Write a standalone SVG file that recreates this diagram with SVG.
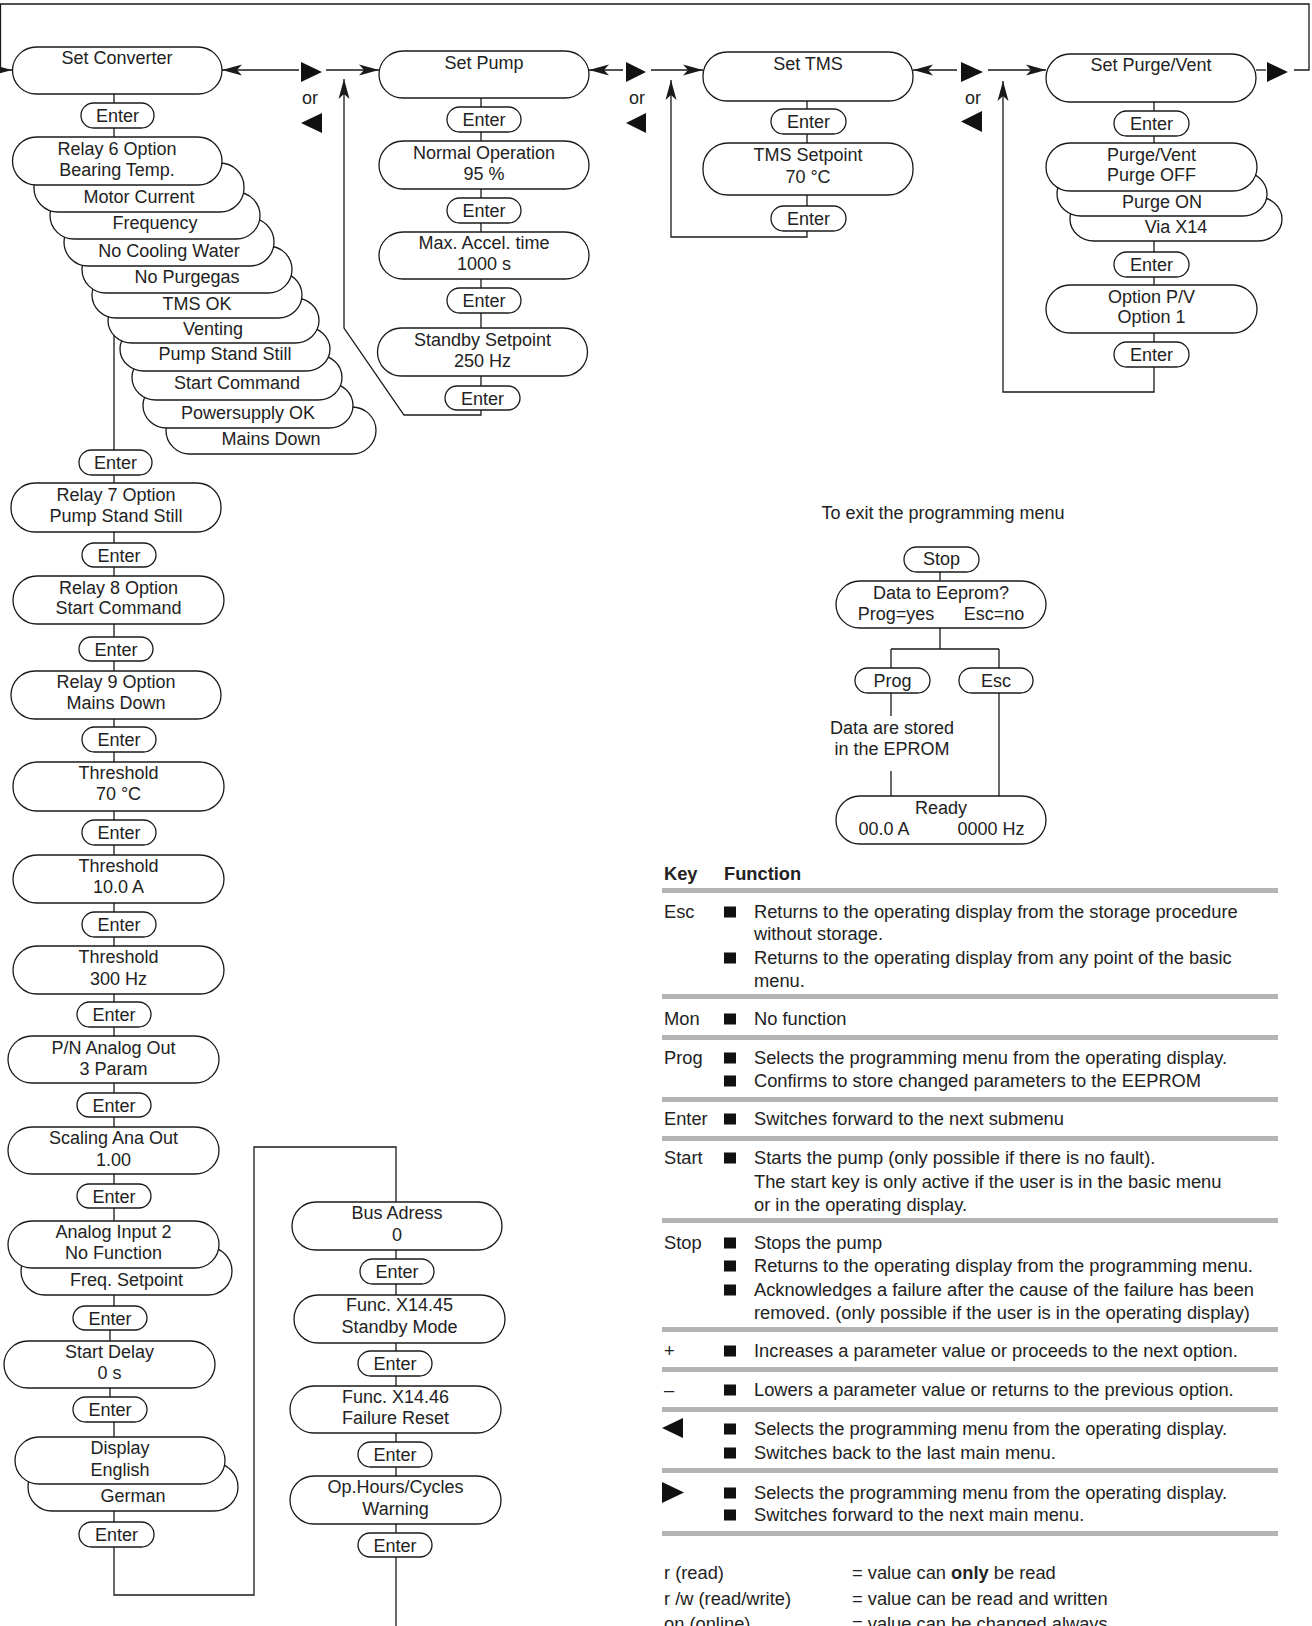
<svg xmlns="http://www.w3.org/2000/svg" width="1312" height="1626" viewBox="0 0 1312 1626">
<style>
text{font-family:"Liberation Sans",Arial,sans-serif;font-size:18px;fill:#222}
#key-table text{font-size:18.3px}
.c{text-anchor:middle}
.b{font-weight:bold}
.n rect{fill:#fff;stroke:#1a1a1a;stroke-width:1.3}
.ln{fill:none;stroke:#1a1a1a;stroke-width:1.3}
.tri{fill:#111}
.rule{fill:#b4b4b4}
.bul{fill:#111}
</style>
<defs>
<marker id="ah" markerUnits="userSpaceOnUse" markerWidth="22" markerHeight="12" refX="20" refY="6" orient="auto"><path d="M0,0.5 L20,6 L0,11.5 L5,6 z" fill="#1a1a1a"/></marker>
</defs>
<g id="connectors">
<path class="ln" d="M1294,70 H1309 V4 H0.5 V70 H12" marker-end="url(#ah)"/>
<path class="ln" d="M299,70 H222" marker-end="url(#ah)"/>
<path class="ln" d="M326,70 H379" marker-end="url(#ah)"/>
<path class="ln" d="M481,98 V415 H404 L344,328 V79" marker-end="url(#ah)"/>
<path class="ln" d="M623,70 H589" marker-end="url(#ah)"/>
<path class="ln" d="M651,70 H703" marker-end="url(#ah)"/>
<path class="ln" d="M807,101 V237 H671 V80" marker-end="url(#ah)"/>
<path class="ln" d="M957,70 H913" marker-end="url(#ah)"/>
<path class="ln" d="M988,70 H1046" marker-end="url(#ah)"/>
<path class="ln" d="M1154,102 V392 H1003 V81" marker-end="url(#ah)"/>
<path class="ln" d="M1256,70 H1266"/>
<path class="ln" d="M114,94 V1318 M110,1318 V1409 M114,1409 V1595 H254 V1147 H396 V1626"/>
<path class="ln" d="M940,572 V649 M891,649 H999 M891,649 V716 M891,771 V796 M999,649 V796"/>
<polygon class="tri" points="301,62 322,72 301,82"/>
<polygon class="tri" points="322,113 301,123 322,133"/>
<text class="c" x="310" y="104">or</text>
<polygon class="tri" points="626,62 646,72 626,82"/>
<polygon class="tri" points="646,113 626,123 646,133"/>
<text class="c" x="637" y="104">or</text>
<polygon class="tri" points="961,62 983,72 961,82"/>
<polygon class="tri" points="982,111 961,121.5 982,132"/>
<text class="c" x="973" y="104">or</text>
<polygon class="tri" points="1267,62 1288,72 1267,82"/>
</g>
<g id="set-converter" class="n"><rect x="12.5" y="47" width="209.5" height="47" rx="24"/><text class="c" x="117" y="63.5">Set Converter</text></g>
<g id="conv-enter-1" class="n"><rect x="81" y="103" width="73" height="25" rx="12.5"/><text class="c" x="117.5" y="122">Enter</text></g>
<g id="opt-mains-down" class="n"><rect x="166" y="407" width="210" height="47" rx="24"/><text class="c" x="271" y="444.5">Mains Down</text></g>
<g id="opt-powersupply-ok" class="n"><rect x="143" y="383" width="210" height="45" rx="24"/><text class="c" x="248" y="418.5">Powersupply OK</text></g>
<g id="opt-start-command" class="n"><rect x="132" y="355" width="210" height="45" rx="24"/><text class="c" x="237" y="388.5">Start Command</text></g>
<g id="opt-pump-stand-still" class="n"><rect x="120" y="327" width="210" height="44" rx="24"/><text class="c" x="225" y="359.5">Pump Stand Still</text></g>
<g id="opt-venting" class="n"><rect x="108" y="298" width="211" height="45" rx="24"/><text class="c" x="213" y="334.5">Venting</text></g>
<g id="opt-tms-ok" class="n"><rect x="92" y="272" width="210" height="46" rx="24"/><text class="c" x="197" y="309.5">TMS OK</text></g>
<g id="opt-no-purgegas" class="n"><rect x="82" y="246" width="210" height="47" rx="24"/><text class="c" x="187" y="282.5">No Purgegas</text></g>
<g id="opt-no-cooling-water" class="n"><rect x="64" y="218" width="210" height="48" rx="24"/><text class="c" x="169" y="256.5">No Cooling Water</text></g>
<g id="opt-frequency" class="n"><rect x="50" y="192" width="210" height="47" rx="24"/><text class="c" x="155" y="228.5">Frequency</text></g>
<g id="opt-motor-current" class="n"><rect x="34" y="163" width="210" height="49" rx="24"/><text class="c" x="139" y="202.5">Motor Current</text></g>
<g id="relay6" class="n"><rect x="12.5" y="137" width="209.5" height="48" rx="24"/><text class="c" x="117" y="154.5">Relay 6 Option</text><text class="c" x="117" y="175.5">Bearing Temp.</text></g>
<g id="conv-enter-2" class="n"><rect x="79" y="450" width="73" height="25" rx="12.5"/><text class="c" x="115.5" y="469">Enter</text></g>
<g id="relay7" class="n"><rect x="11" y="483" width="210" height="49" rx="24"/><text class="c" x="116" y="500.5">Relay 7 Option</text><text class="c" x="116" y="521.5">Pump Stand Still</text></g>
<g id="conv-enter-3" class="n"><rect x="82" y="543" width="74" height="24" rx="12"/><text class="c" x="119" y="561.5">Enter</text></g>
<g id="relay8" class="n"><rect x="13" y="576" width="211" height="48" rx="24"/><text class="c" x="118.5" y="593.5">Relay 8 Option</text><text class="c" x="118.5" y="613.5">Start Command</text></g>
<g id="conv-enter-4" class="n"><rect x="79" y="637" width="74" height="24" rx="12"/><text class="c" x="116" y="655.5">Enter</text></g>
<g id="relay9" class="n"><rect x="11" y="671" width="210" height="48" rx="24"/><text class="c" x="116" y="687.5">Relay 9 Option</text><text class="c" x="116" y="708.5">Mains Down</text></g>
<g id="conv-enter-5" class="n"><rect x="82" y="727" width="74" height="25" rx="12.5"/><text class="c" x="119" y="746">Enter</text></g>
<g id="threshold-temp" class="n"><rect x="13" y="762" width="211" height="49" rx="24"/><text class="c" x="118.5" y="778.5">Threshold</text><text class="c" x="118.5" y="799.5">70 °C</text></g>
<g id="conv-enter-6" class="n"><rect x="82" y="820" width="74" height="25" rx="12.5"/><text class="c" x="119" y="839">Enter</text></g>
<g id="threshold-current" class="n"><rect x="13" y="855" width="211" height="48" rx="24"/><text class="c" x="118.5" y="871.5">Threshold</text><text class="c" x="118.5" y="892.5">10.0 A</text></g>
<g id="conv-enter-7" class="n"><rect x="82" y="912" width="74" height="25" rx="12.5"/><text class="c" x="119" y="931">Enter</text></g>
<g id="threshold-freq" class="n"><rect x="13" y="946" width="211" height="48" rx="24"/><text class="c" x="118.5" y="962.5">Threshold</text><text class="c" x="118.5" y="984.5">300 Hz</text></g>
<g id="conv-enter-8" class="n"><rect x="77" y="1002" width="74" height="25" rx="12.5"/><text class="c" x="114" y="1021">Enter</text></g>
<g id="pn-analog-out" class="n"><rect x="8" y="1036" width="211" height="47" rx="24"/><text class="c" x="113.5" y="1053.5">P/N Analog Out</text><text class="c" x="113.5" y="1074.5">3 Param</text></g>
<g id="conv-enter-9" class="n"><rect x="77" y="1093" width="74" height="24" rx="12"/><text class="c" x="114" y="1111.5">Enter</text></g>
<g id="scaling-ana-out" class="n"><rect x="8" y="1127" width="211" height="47" rx="24"/><text class="c" x="113.5" y="1143.5">Scaling Ana Out</text><text class="c" x="113.5" y="1165.5">1.00</text></g>
<g id="conv-enter-10" class="n"><rect x="77" y="1184" width="74" height="24" rx="12"/><text class="c" x="114" y="1202.5">Enter</text></g>
<g id="opt-freq-setpoint" class="n"><rect x="21" y="1247" width="211" height="48" rx="24"/><text class="c" x="126.5" y="1285.5">Freq. Setpoint</text></g>
<g id="analog-input-2" class="n"><rect x="8" y="1221" width="211" height="47" rx="24"/><text class="c" x="113.5" y="1237.5">Analog Input 2</text><text class="c" x="113.5" y="1258.5">No Function</text></g>
<g id="conv-enter-11" class="n"><rect x="73" y="1306" width="74" height="24" rx="12"/><text class="c" x="110" y="1324.5">Enter</text></g>
<g id="start-delay" class="n"><rect x="4" y="1341" width="211" height="47" rx="24"/><text class="c" x="109.5" y="1357.5">Start Delay</text><text class="c" x="109.5" y="1378.5">0 s</text></g>
<g id="conv-enter-12" class="n"><rect x="73" y="1397" width="74" height="25" rx="12.5"/><text class="c" x="110" y="1416">Enter</text></g>
<g id="opt-german" class="n"><rect x="28" y="1463" width="210" height="48" rx="24"/><text class="c" x="133" y="1501.5">German</text></g>
<g id="display" class="n"><rect x="15" y="1437" width="210" height="47" rx="24"/><text class="c" x="120" y="1453.5">Display</text><text class="c" x="120" y="1475.5">English</text></g>
<g id="conv-enter-13" class="n"><rect x="79" y="1522" width="75" height="25" rx="12.5"/><text class="c" x="116.5" y="1541">Enter</text></g>
<g id="bus-adress" class="n"><rect x="292" y="1202" width="210" height="48" rx="24"/><text class="c" x="397" y="1218.5">Bus Adress</text><text class="c" x="397" y="1240.5">0</text></g>
<g id="bus-enter-1" class="n"><rect x="360" y="1259" width="74" height="25" rx="12.5"/><text class="c" x="397" y="1278">Enter</text></g>
<g id="func-x14-45" class="n"><rect x="294" y="1295" width="211" height="48" rx="24"/><text class="c" x="399.5" y="1311">Func. X14.45</text><text class="c" x="399.5" y="1332.5">Standby Mode</text></g>
<g id="bus-enter-2" class="n"><rect x="358" y="1351" width="74" height="25" rx="12.5"/><text class="c" x="395" y="1370">Enter</text></g>
<g id="func-x14-46" class="n"><rect x="290" y="1386" width="211" height="47" rx="24"/><text class="c" x="395.5" y="1402.5">Func. X14.46</text><text class="c" x="395.5" y="1423.5">Failure Reset</text></g>
<g id="bus-enter-3" class="n"><rect x="358" y="1442" width="74" height="25" rx="12.5"/><text class="c" x="395" y="1461">Enter</text></g>
<g id="op-hours" class="n"><rect x="290" y="1476" width="211" height="48" rx="24"/><text class="c" x="395.5" y="1492.5">Op.Hours/Cycles</text><text class="c" x="395.5" y="1514.5">Warning</text></g>
<g id="bus-enter-4" class="n"><rect x="358" y="1533" width="74" height="24" rx="12"/><text class="c" x="395" y="1551.5">Enter</text></g>
<g id="set-pump" class="n"><rect x="379" y="51" width="210" height="47" rx="24"/><text class="c" x="484" y="68.5">Set Pump</text></g>
<g id="pump-enter-1" class="n"><rect x="447" y="107" width="74" height="25" rx="12.5"/><text class="c" x="484" y="126">Enter</text></g>
<g id="normal-operation" class="n"><rect x="379" y="141" width="210" height="48" rx="24"/><text class="c" x="484" y="158.5">Normal Operation</text><text class="c" x="484" y="179.5">95 %</text></g>
<g id="pump-enter-2" class="n"><rect x="447" y="198" width="74" height="25" rx="12.5"/><text class="c" x="484" y="217">Enter</text></g>
<g id="max-accel" class="n"><rect x="379" y="232" width="210" height="47" rx="24"/><text class="c" x="484" y="248.5">Max. Accel. time</text><text class="c" x="484" y="269.5">1000 s</text></g>
<g id="pump-enter-3" class="n"><rect x="447" y="288" width="74" height="25" rx="12.5"/><text class="c" x="484" y="307">Enter</text></g>
<g id="standby-setpoint" class="n"><rect x="377.5" y="328" width="210" height="48" rx="24"/><text class="c" x="482.5" y="345.5">Standby Setpoint</text><text class="c" x="482.5" y="366.5">250 Hz</text></g>
<g id="pump-enter-4" class="n"><rect x="445" y="386" width="75" height="24" rx="12"/><text class="c" x="482.5" y="404.5">Enter</text></g>
<g id="set-tms" class="n"><rect x="703" y="52" width="210" height="49" rx="24"/><text class="c" x="808" y="69.5">Set TMS</text></g>
<g id="tms-enter-1" class="n"><rect x="771" y="109" width="75" height="25" rx="12.5"/><text class="c" x="808.5" y="128">Enter</text></g>
<g id="tms-setpoint" class="n"><rect x="703" y="143" width="210" height="52" rx="25"/><text class="c" x="808" y="160.5">TMS Setpoint</text><text class="c" x="808" y="182.5">70 °C</text></g>
<g id="tms-enter-2" class="n"><rect x="771" y="206" width="75" height="25" rx="12.5"/><text class="c" x="808.5" y="225">Enter</text></g>
<g id="set-purge-vent" class="n"><rect x="1046" y="54" width="210" height="48" rx="24"/><text class="c" x="1151" y="70.5">Set Purge/Vent</text></g>
<g id="purge-enter-1" class="n"><rect x="1114" y="111" width="75" height="25" rx="12.5"/><text class="c" x="1151.5" y="130">Enter</text></g>
<g id="opt-via-x14" class="n"><rect x="1070" y="197" width="212" height="44" rx="24"/><text class="c" x="1176" y="233">Via X14</text></g>
<g id="opt-purge-on" class="n"><rect x="1057" y="172" width="210" height="44" rx="24"/><text class="c" x="1162" y="207.5">Purge ON</text></g>
<g id="purge-vent" class="n"><rect x="1046" y="143" width="211" height="48" rx="24"/><text class="c" x="1151.5" y="160.5">Purge/Vent</text><text class="c" x="1151.5" y="180.5">Purge OFF</text></g>
<g id="purge-enter-2" class="n"><rect x="1114" y="252" width="75" height="25" rx="12.5"/><text class="c" x="1151.5" y="271">Enter</text></g>
<g id="option-pv" class="n"><rect x="1046" y="285" width="211" height="48" rx="24"/><text class="c" x="1151.5" y="302.5">Option P/V</text><text class="c" x="1151.5" y="322.5">Option 1</text></g>
<g id="purge-enter-3" class="n"><rect x="1114" y="342" width="75" height="25" rx="12.5"/><text class="c" x="1151.5" y="361">Enter</text></g>
<g id="exit-title"><text class="c" x="943" y="518.5">To exit the programming menu</text></g>
<g id="exit-stop" class="n"><rect x="904" y="547" width="75" height="25" rx="12.5"/><text class="c" x="941.5" y="564.5">Stop</text></g>
<g id="data-to-eeprom" class="n"><rect x="836" y="581" width="210" height="47" rx="24"/><text class="c" x="941" y="598.5">Data to Eeprom?</text><text class="c" x="896" y="619.5">Prog=yes</text><text class="c" x="994" y="619.5">Esc=no</text></g>
<g id="exit-prog" class="n"><rect x="855" y="668" width="75" height="25" rx="12.5"/><text class="c" x="892.5" y="687">Prog</text></g>
<g id="exit-esc" class="n"><rect x="959" y="668" width="74" height="25" rx="12.5"/><text class="c" x="996" y="687">Esc</text></g>
<g id="data-stored"><text class="c" x="892" y="733.5">Data are stored</text><text class="c" x="892" y="754.5">in the EPROM</text></g>
<g id="ready" class="n"><rect x="836" y="796" width="210" height="48" rx="24"/><text class="c" x="941" y="813.5">Ready</text><text class="c" x="884" y="834.5">00.0 A</text><text class="c" x="991" y="834.5">0000 Hz</text></g>
<g id="key-table">
<text class="b" x="664" y="879.5">Key</text><text class="b" x="724" y="879.5">Function</text>
<rect class="rule" x="662" y="888" width="616" height="5"/>
<text x="664" y="917.5">Esc</text>
<rect class="bul" x="724" y="906.5" width="12" height="11"/><text x="754" y="917.5">Returns to the operating display from the storage procedure</text>
<text x="754" y="939.5">without storage.</text>
<rect class="bul" x="724" y="952.5" width="12" height="11"/><text x="754" y="963.5">Returns to the operating display from any point of the basic</text>
<text x="754" y="986.5">menu.</text>
<rect class="rule" x="662" y="994" width="616" height="5"/>
<text x="664" y="1024.5">Mon</text>
<rect class="bul" x="724" y="1013.5" width="12" height="11"/><text x="754" y="1024.5">No function</text>
<rect class="rule" x="662" y="1035" width="616" height="5"/>
<text x="664" y="1063.5">Prog</text>
<rect class="bul" x="724" y="1052.5" width="12" height="11"/><text x="754" y="1063.5">Selects the programming menu from the operating display.</text>
<rect class="bul" x="724" y="1075.5" width="12" height="11"/><text x="754" y="1086.5">Confirms to store changed parameters to the EEPROM</text>
<rect class="rule" x="662" y="1097" width="616" height="5"/>
<text x="664" y="1124.5">Enter</text>
<rect class="bul" x="724" y="1113.5" width="12" height="11"/><text x="754" y="1124.5">Switches forward to the next submenu</text>
<rect class="rule" x="662" y="1136" width="616" height="5"/>
<text x="664" y="1163.5">Start</text>
<rect class="bul" x="724" y="1152.5" width="12" height="11"/><text x="754" y="1163.5">Starts the pump (only possible if there is no fault).</text>
<text x="754" y="1187.5">The start key is only active if the user is in the basic menu</text>
<text x="754" y="1210.5">or in the operating display.</text>
<rect class="rule" x="662" y="1218" width="616" height="5"/>
<text x="664" y="1248.5">Stop</text>
<rect class="bul" x="724" y="1237.5" width="12" height="11"/><text x="754" y="1248.5">Stops the pump</text>
<rect class="bul" x="724" y="1260.5" width="12" height="11"/><text x="754" y="1271.5">Returns to the operating display from the programming menu.</text>
<rect class="bul" x="724" y="1284.5" width="12" height="11"/><text x="754" y="1295.5">Acknowledges a failure after the cause of the failure has been</text>
<text x="754" y="1319">removed. (only possible if the user is in the operating display)</text>
<rect class="rule" x="662" y="1327" width="616" height="5"/>
<text x="664" y="1356.5">+</text>
<rect class="bul" x="724" y="1345.5" width="12" height="11"/><text x="754" y="1356.5">Increases a parameter value or proceeds to the next option.</text>
<rect class="rule" x="662" y="1367" width="616" height="5"/>
<text x="664" y="1395.5">–</text>
<rect class="bul" x="724" y="1384.5" width="12" height="11"/><text x="754" y="1395.5">Lowers a parameter value or returns to the previous option.</text>
<rect class="rule" x="662" y="1407" width="616" height="5"/>
<polygon class="tri" points="683,1418 662,1428 683,1438"/>
<rect class="bul" x="724" y="1423.5" width="12" height="11"/><text x="754" y="1434.5">Selects the programming menu from the operating display.</text>
<rect class="bul" x="724" y="1447.5" width="12" height="11"/><text x="754" y="1458.5">Switches back to the last main menu.</text>
<rect class="rule" x="662" y="1468" width="616" height="5"/>
<polygon class="tri" points="662,1482 684,1492.5 662,1503"/>
<rect class="bul" x="724" y="1487.5" width="12" height="11"/><text x="754" y="1498.5">Selects the programming menu from the operating display.</text>
<rect class="bul" x="724" y="1509.5" width="12" height="11"/><text x="754" y="1520.5">Switches forward to the next main menu.</text>
<rect class="rule" x="662" y="1531" width="616" height="5"/>
<text x="664" y="1578.5">r (read)</text><text x="852" y="1578.5">= value can <tspan class="b">only</tspan> be read</text>
<text x="664" y="1604.5">r /w (read/write)</text><text x="852" y="1604.5">= value can be read and written</text>
<text x="664" y="1630">on (online)</text><text x="852" y="1630">= value can be changed always</text>
</g>
</svg>
